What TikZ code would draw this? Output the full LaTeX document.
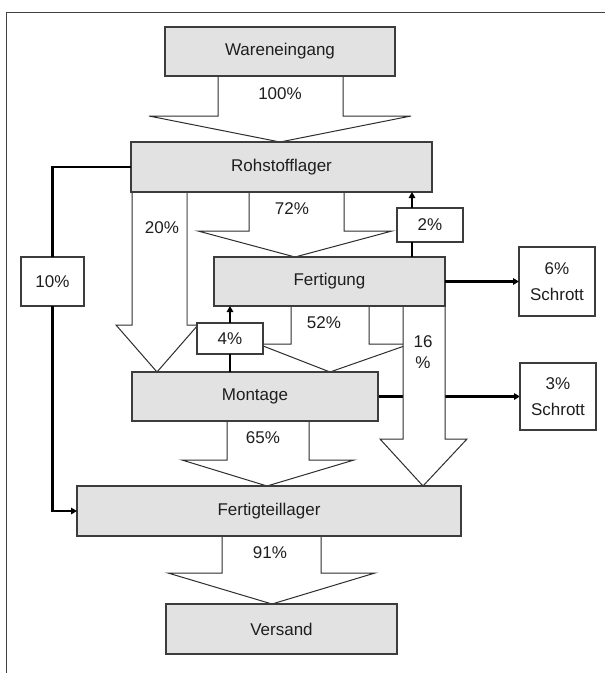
\documentclass[tikz,border=0pt]{standalone}
\usepackage{fontspec}
\setmainfont{Liberation Sans}
\usetikzlibrary{arrows.meta,backgrounds}
\definecolor{boxfill}{RGB}{226,226,226}
\definecolor{boxline}{RGB}{60,60,60}
\definecolor{flowline}{RGB}{45,45,45}
\definecolor{textcol}{RGB}{30,30,30}
\begin{document}
\begin{tikzpicture}[x=1pt,y=-1pt,
  box/.style={draw=boxline, fill=boxfill, line width=1.2pt, inner sep=0pt, outer sep=0pt,
    text=textcol, font=\fontsize{17}{20}\selectfont},
  tagbox/.style={draw=boxline, fill=white, line width=1.2pt, inner sep=0pt, outer sep=0pt,
    text=textcol, align=center, font=\fontsize{17}{26}\selectfont},
  flow/.style={draw=flowline, fill=white, line width=1pt, line join=miter},
  conn/.style={draw=black, line width=2.2pt},
  tip/.style={-{Triangle[length=6pt,width=6.5pt]}},
  lbl/.style={text=textcol, inner sep=0pt, align=center, font=\fontsize{17}{21}\selectfont}
]
\useasboundingbox (0,0) rectangle (605,673);

% frame lines
\draw[draw=black!75, line width=1pt] (6,673) -- (6,12) -- (605,12);

% process stations
\node[box, minimum width=230pt, minimum height=49pt] (ware)  at (280,51.5)  {Wareneingang};
\node[box, minimum width=301pt, minimum height=50pt] (roh)   at (281.5,167) {Rohstofflager};
\node[box, minimum width=231pt, minimum height=49pt] (fert)  at (329.5,281.5) {Fertigung};
\node[box, minimum width=246pt, minimum height=49pt] (mont)  at (255,396.5) {Montage};
\node[box, minimum width=384pt, minimum height=50pt] (lager) at (269,511)   {Fertigteillager};
\node[box, minimum width=231pt, minimum height=50pt] (vers)  at (281.5,629) {Versand};

% percentage tags on the thin flows
\node[tagbox, minimum width=63pt, minimum height=49pt] (p10) at (52.5,281.5) {10\%};
\node[tagbox, minimum width=66pt, minimum height=34pt] (p2)  at (430,225)    {2\%};
\node[tagbox, minimum width=66pt, minimum height=31pt] (p4)  at (230,338.5)  {4\%};
\node[tagbox, minimum width=76pt, minimum height=69pt] (s6)  at (557,281.5)  {6\%\\Schrott};
\node[tagbox, minimum width=76pt, minimum height=67pt] (s3)  at (558,396.5)  {3\%\\Schrott};

% broad material flows, kept beneath the stations
\begin{scope}[on background layer]
  % 100 %
  \draw[flow] (218,0 |- ware.south) -- (218,116) -- (149,116) -- (280,0 |- roh.north)
    -- (411,116) -- (343,116) -- (343,0 |- ware.south);
  % 20 %
  \draw[flow] (132,0 |- roh.south) -- (132,325) -- (116,325) -- (157,0 |- mont.north)
    -- (198,325) -- (187,325) -- (187,0 |- roh.south);
  \draw[draw=black!45, line width=1pt] (187,0 |- roh.south) -- (187,325);
  % 72 %
  \draw[flow] (249,0 |- roh.south) -- (249,231) -- (198,231) -- (295,0 |- fert.north)
    -- (392,231) -- (344,231) -- (344,0 |- roh.south);
  % 52 %
  \draw[flow] (291,0 |- fert.south) -- (291,344) -- (258,344) -- (330,0 |- mont.north)
    -- (410,344) -- (369,344) -- (369,0 |- fert.south);
  % 65 %
  \draw[flow] (227,0 |- mont.south) -- (227,460) -- (182,460) -- (267,0 |- lager.north)
    -- (354,460) -- (309,460) -- (309,0 |- mont.south);
  % 91 %
  \draw[flow] (222,0 |- lager.south) -- (222,573) -- (168,573) -- (272,0 |- vers.north)
    -- (375,573) -- (321,573) -- (321,0 |- lager.south);
  % scrap from assembly, passing behind the 16 % flow
  \draw[conn, tip] (mont.east) -- (s3.west);
  % 16 %
  \draw[flow] (403,0 |- fert.south) -- (403,439) -- (380,439) -- (423,0 |- lager.north)
    -- (467,439) -- (445,439) -- (445,0 |- fert.south);
\end{scope}

% flow labels
\node[lbl] (l100) at (280,94)  {100\%};
\node[lbl] (l20)  at (162,228) {20\%};
\node[lbl] (l72)  at (292,209) {72\%};
\node[lbl] (l52)  at (324,323) {52\%};
\node[lbl] (l16)  at (423,352) {16\\\%};
\node[lbl] (l65)  at (263,438) {65\%};
\node[lbl] (l91)  at (270,553) {91\%};

% thin flows
\draw[conn] (roh.west) -| (p10.north);
\draw[conn, tip] (p10.south) |- (lager.west);
\draw[conn] (412,0 |- fert.north) -- (412,0 |- p2.south);
\draw[conn, tip] (412,0 |- p2.north) -- (412,0 |- roh.south);
\draw[conn] (p4.south |- mont.north) -- (p4.south);
\draw[conn, tip] (p4.north) -- (p4.north |- fert.south);
\draw[conn, tip] (fert.east) -- (s6.west);
\end{tikzpicture}
\end{document}
